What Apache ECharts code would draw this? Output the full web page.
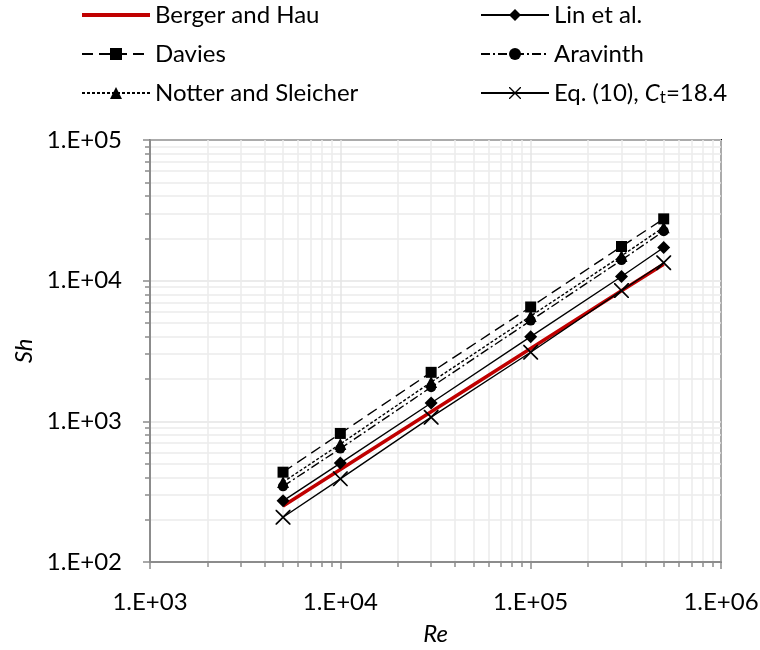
<!DOCTYPE html>
<html>
<head>
<meta charset="utf-8">
<script src="https://cdn.jsdelivr.net/npm/echarts@6/dist/echarts.min.js"></script>
<style>html,body{margin:0;padding:0;background:#fff}#c{width:760px;height:650px}</style>
</head>
<body>
<div id="c"></div>
<script>
// Data
const reynolds = [5000, 10000, 30000, 100000, 300000, 500000];
const bergerHau = [250, 454, 1170, 3290, 8470, 13100];
const davies = [435, 820, 2230, 6500, 17500, 27500];
const notterSleicher = [370, 690, 1900, 5600, 15000, 24000];
const aravinth = [345, 640, 1750, 5200, 14000, 22500];
const linEtAl = [272, 505, 1350, 4000, 10700, 17200];
const eq10 = [208, 390, 1070, 3100, 8500, 13400];
const seriesNames = ['Berger and Hau', 'Davies', 'Notter and Sleicher', 'Lin et al.', 'Aravinth', 'Eq. (10), Ct=18.4'];
const xTickValues = [1e3, 1e4, 1e5, 1e6];
const yTickValues = [1e2, 1e3, 1e4, 1e5];

const FONT = 'Lato';
const pair = (ys) => reynolds.map((x, i) => [x, ys[i]]);
const fmt = (v) => {
  const e = Math.round(Math.log10(v));
  return '1.E+' + (e < 10 ? '0' + e : e);
};
const crossPath = 'path://M0,0L0.8,0L5,4.2L9.2,0L10,0L10,0.8L5.8,5L10,9.2L10,10L9.2,10L5,5.8L0.8,10L0,10L0,9.2L4.2,5L0,0.8Z';

const chart = echarts.init(document.getElementById('c'), null, {renderer: 'canvas'});
const axisCommon = {
  type: 'log',
  logBase: 10,
  axisLine: {show: true, lineStyle: {color: '#8c8c8c', width: 2}},
  axisTick: {show: true, inside: false, length: 7, lineStyle: {color: '#8c8c8c', width: 1.5}},
  minorTick: {show: true, splitNumber: 9, length: 5, lineStyle: {color: '#8c8c8c', width: 1.5}},
  splitLine: {show: true, lineStyle: {color: '#e4e4e4', width: 1.5}},
  minorSplitLine: {show: true, lineStyle: {color: '#ececec', width: 1.5}},
  axisLabel: {fontFamily: FONT, fontSize: 24, color: '#000', formatter: fmt},
  nameTextStyle: {fontFamily: FONT, fontSize: 24, fontStyle: 'italic', color: '#000'}
};

const mk = (name, data, line, symbol, size) => ({
  name, type: 'line', data: pair(data),
  lineStyle: line,
  symbol: symbol || 'none', symbolSize: size || 0,
  showSymbol: !!symbol,
  itemStyle: {color: line.color},
  emphasis: {disabled: true},
  animation: false, z: 3
});

const series = [
  mk(seriesNames[0], bergerHau, {color: '#c00000', width: 3.5, type: 'solid'}, null),
  mk(seriesNames[1], davies, {color: '#000', width: 1.4, type: [11, 6]}, 'rect', 11),
  mk(seriesNames[2], notterSleicher, {color: '#000', width: 1.4, type: [3, 2]}, 'triangle', 12),
  mk(seriesNames[3], linEtAl, {color: '#000', width: 1.4, type: 'solid'}, 'diamond', 13),
  mk(seriesNames[4], aravinth, {color: '#000', width: 1.4, type: [9, 3, 2, 3]}, 'circle', 10),
  mk(seriesNames[5], eq10, {color: '#000', width: 1.4, type: 'solid'}, crossPath, 15)
];
series[0].z = 2;

const legendText = {fontFamily: FONT, fontSize: 24, color: '#000',
  rich: {
    n: {fontFamily: FONT, fontSize: 24, color: '#000'},
    i: {fontFamily: FONT, fontSize: 24, fontStyle: 'italic', color: '#000'},
    s: {fontFamily: FONT, fontSize: 17, color: '#000', padding: [10, 0, 0, 0]}
  }
};
const legendFmt = (n) => n.indexOf('Eq. (10)') === 0 ? '{n|Eq. (10), }{i|C}{s|t}{n|=18.4}' : n;
const legendItems = (names) => names.map((n) => n === seriesNames[0]
  ? {name: n, itemStyle: {opacity: 0}, lineStyle: {width: 4}} : {name: n});
const legendBase = {orient: 'vertical', top: -2, itemWidth: 68, itemHeight: 15, itemGap: 15,
  textStyle: legendText, formatter: legendFmt, selectedMode: false};

chart.setOption({
  backgroundColor: '#fff',
  animation: false,
  grid: {left: 150, right: 39, top: 140, bottom: 88, show: true, borderColor: '#000', borderWidth: 2,
    backgroundColor: 'transparent', containLabel: false, outerBoundsMode: 'none'},
  legend: [
    Object.assign({}, legendBase, {data: legendItems(seriesNames.slice(0, 3)), left: 75}),
    Object.assign({}, legendBase, {data: legendItems(seriesNames.slice(3)), left: 475})
  ],
  xAxis: Object.assign({}, axisCommon, {
    min: xTickValues[0], max: xTickValues[xTickValues.length - 1],
    name: 'Re', nameLocation: 'middle', nameGap: 60,
    axisLabel: Object.assign({}, axisCommon.axisLabel, {margin: 28})
  }),
  yAxis: Object.assign({}, axisCommon, {
    min: yTickValues[0], max: yTickValues[yTickValues.length - 1],
    name: 'Sh', nameLocation: 'middle', nameGap: 112, nameRotate: 90,
    axisLabel: Object.assign({}, axisCommon.axisLabel, {margin: 28})
  }),
  series
});
</script>
</body>
</html>
